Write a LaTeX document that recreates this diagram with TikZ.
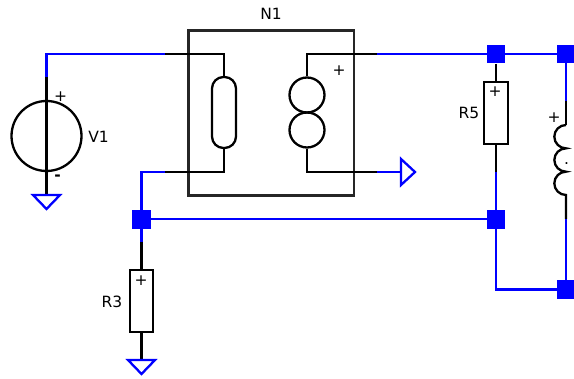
\documentclass[tikz,border=0pt]{standalone}
\usepackage{fontspec}
\setmainfont{DejaVu Sans}
\definecolor{wireblue}{RGB}{0,0,255}
\tikzset{
  bw/.style={draw=wireblue,line width=2.3pt},
  kw/.style={draw=black,line width=2.3pt},
  junction/.style={fill=wireblue,draw=none,minimum size=18.8pt,inner sep=0pt,rectangle},
  res/.style={rectangle,draw=black,line width=2.3pt,fill=white,minimum width=23.5pt,minimum height=62pt,inner sep=0pt},
  pill/.style={rectangle,rounded corners=11.5pt,draw=black,line width=2.3pt,minimum width=24pt,minimum height=71pt,inner sep=0pt},
  ring/.style={circle,draw=black,line width=2.3pt,minimum size=35pt,inner sep=0pt},
  vsrc/.style={circle,draw=black,line width=2.3pt,minimum size=70pt,inner sep=0pt},
  lbl/.style={font=\fontsize{15.5}{17}\selectfont,inner sep=0pt,text=black},
  gnd/.style={draw=wireblue,line width=2.3pt,line join=miter},
}
\begin{document}
\begin{tikzpicture}[x=1pt,y=-1pt]
\useasboundingbox (0,0) rectangle (574,379);
% named points
\coordinate (vtop) at (46.5,77);
\coordinate (tl) at (46.5,54);
\coordinate (a1) at (165,54);
\coordinate (pa) at (224,54);
\coordinate (a2) at (165,172);
\coordinate (pb) at (224,172);
\coordinate (bl) at (141.5,172);
\coordinate (sa) at (307,54);
\coordinate (sb) at (307,172);
\coordinate (c1) at (377,54);
\coordinate (c2) at (377,172);
\coordinate (r3wire) at (141.5,242);
\coordinate (r5wire) at (496,172);
\coordinate (ltop) at (566,101);
\coordinate (lu) at (566,125);
\coordinate (ld) at (566,195);
\coordinate (lbot) at (566,219);
\coordinate (corner) at (496,289.5);
\coordinate (g1) at (46.5,195);
\coordinate (g3) at (141.5,360);
\coordinate (gr) at (401,172);
% components
\node[vsrc] (V1) at (46.5,136) {};
\node[pill] (P) at (224,112.5) {};
\node[ring] (S1) at (307,95) {};
\node[ring] (S2) at (307,130) {};
\node[res] (R5) at (496,112.8) {};
\node[res] (R3) at (141.5,301) {};
\node[junction] (J1) at (141.5,219.3) {};
\node[junction] (J2) at (496,54) {};
\node[junction] (J3) at (566,54) {};
\node[junction] (J4) at (496,219.3) {};
\node[junction] (J5) at (566,289.5) {};
% box
\node[draw=black!85,line width=2.3pt,minimum width=165.5pt,minimum height=165pt,inner sep=0pt] (N) at (271.2,113) {};
% blue wires
\draw[bw] (vtop) -- (tl) -- (a1);
\draw[bw] (a2) -- (bl) -- (J1.center);
\draw[bw] (J1.center) -- (r3wire);
\draw[bw] (J1.center) -- (J4.center);
\draw[bw] (c1) -- (J2.center) -- (J3.center);
\draw[bw] (c2) -- (gr);
\draw[bw] (J3.center) -- (ltop);
\draw[bw] (lbot) -- (J5.center);
\draw[bw] (r5wire) -- (J4.center);
\draw[bw] (J4.center) -- (corner) -- (J5.center);
% black wires
\draw[kw] (vtop) -- (V1.north);
\draw[kw] (V1.north) -- (V1.south);
\draw[kw] (V1.south) -- (g1);
\draw[kw] (a1) -- (pa) -- (P.north);
\draw[kw] (P.south) -- (pb) -- (a2);
\draw[kw] (S1.north) -- (sa) -- (c1);
\draw[kw] (S2.south) -- (sb) -- (c2);
\draw[kw] (r3wire) -- (R3.north);
\draw[kw] (R3.south) -- (g3);
\draw[kw] (J2.south) -- (R5.north);
\draw[kw] (R5.south) -- (r5wire);
\draw[kw] (ltop) -- (lu);
\draw[kw] (lu) arc[start angle=90,end angle=270,radius=11.67pt]
           arc[start angle=90,end angle=270,radius=11.67pt]
           arc[start angle=90,end angle=270,radius=11.67pt] -- (lbot);
% grounds
\draw[gnd] (g1) ++(-13.5,0) -- ++(27,0) -- (46.5,209) -- cycle;
\draw[gnd] (g3) ++(-13.5,0) -- ++(27,0) -- (141.5,374) -- cycle;
\draw[gnd] (gr) ++(0,-13) -- ++(0,26) -- (415,172) -- cycle;
% labels
\node[lbl] (tN1) at (271,14) {N1};
\node[lbl] (tV1) at (98.5,137) {V1};
\node[lbl] (tR5) at (469,113) {R5};
\node[lbl] (tR3) at (112,302) {R3};
\node[lbl] (p1) at (60.5,97) {+};
\node[lbl] (m1) at (57.5,178) {\bfseries -};
\node[lbl] (p2) at (339,71) {+};
\node[lbl] (p3) at (495,92) {+};
\node[lbl] (p4) at (554,117.5) {+};
\node[lbl] (m4) at (566.5,164) {.};
\node[lbl] (p5) at (141,281) {+};
\end{tikzpicture}
\end{document}
